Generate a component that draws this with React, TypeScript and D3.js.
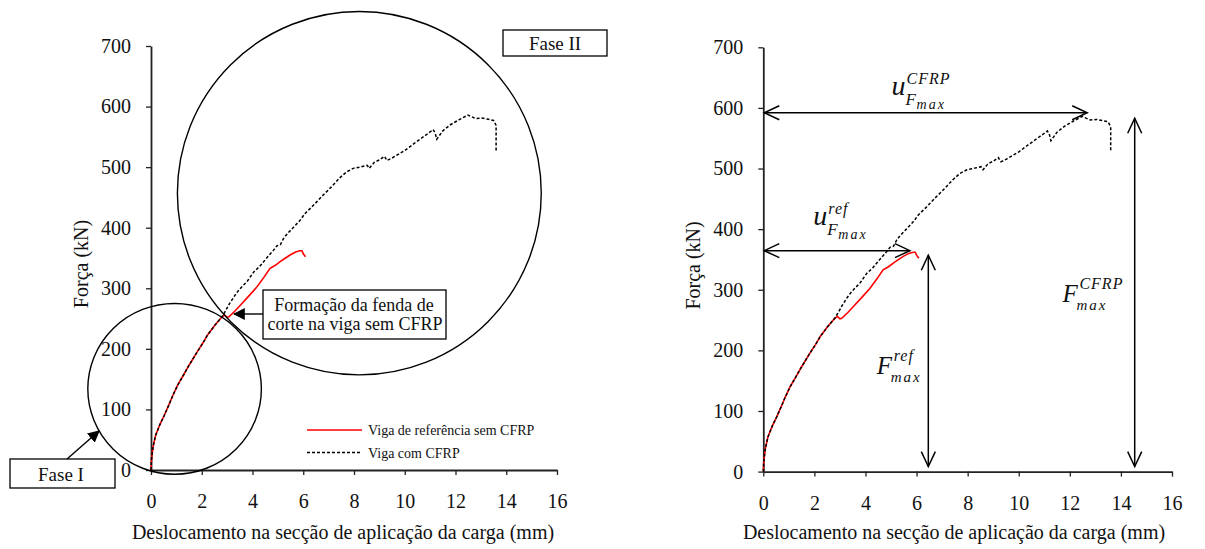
import React, { useEffect, useRef } from "react";
import * as d3 from "d3";

// Viga de referência (sem CFRP)
const refDisp = [0, 0.02, 0.08, 0.18, 0.35, 0.52, 0.7, 0.86, 1.05, 1.27, 1.5, 1.82, 2.05, 2.23, 2.5, 2.78, 2.9, 3.0, 3.07, 3.3, 3.52, 3.85, 4.17, 4.45, 4.69, 4.9, 5.09, 5.3, 5.48, 5.7, 5.87, 5.95, 6.0, 6.09];
const refForce = [0, 18, 38, 57, 75, 90, 107, 123, 140, 156, 173, 195, 210, 223, 238, 252, 256, 252, 253, 262, 272, 287, 302, 318, 333, 338, 344, 350, 355, 360, 362, 362, 357, 352];

// Viga com CFRP
const cfrpDisp = [0, 0.02, 0.08, 0.18, 0.35, 0.52, 0.7, 0.86, 1.05, 1.27, 1.5, 1.82, 2.05, 2.23, 2.5, 2.78, 2.9, 3.1, 3.3, 3.46, 3.8, 4.05, 4.28, 4.6, 4.83, 4.96, 5.1, 5.22, 5.37, 5.6, 5.87, 6.06, 6.4, 6.74, 7.1, 7.43, 7.7, 7.97, 8.22, 8.52, 8.6, 8.8, 9.0, 9.2, 9.3, 9.5, 9.78, 10.02, 10.4, 10.8, 11.12, 11.2, 11.26, 11.5, 11.8, 12.13, 12.49, 12.59, 12.8, 13.04, 13.3, 13.5, 13.6, 13.6, 13.6];
const cfrpForce = [0, 18, 38, 57, 75, 90, 107, 123, 140, 156, 173, 195, 210, 223, 238, 252, 260, 275, 288, 297, 312, 327, 336, 352, 363, 370, 372, 382, 390, 400, 412, 423, 437, 452, 467, 482, 492, 498, 500, 503, 498, 508, 512, 518, 511, 515, 522, 528, 540, 552, 562, 556, 546, 560, 570, 578, 586, 584, 580, 581, 579, 577, 569, 545, 527];

const xTicks = [0, 2, 4, 6, 8, 10, 12, 14, 16];
const yTicks = [0, 100, 200, 300, 400, 500, 600, 700];
const legendLabels = ["Viga de referência sem CFRP", "Viga com CFRP"];
const xTitle = "Deslocamento na secção de aplicação da carga (mm)";
const yTitle = "Força (kN)";

// annotation circles (centre disp, centre force, radius disp, radius force)
const phaseCircles = [
  [0.93, 134, 3.42, 141],
  [8.21, 457, 7.17, 300],
];

// right panel: maxima
const refMax = { u: 5.74, F: 357 };
const cfrpMax = { u: 12.68, F: 583 };

const FONT = "Liberation Serif, Times New Roman, Times, serif";

const App = () => {
  const ref = useRef<SVGSVGElement>(null);

  useEffect(() => {
    const svg = d3.select(ref.current);
    svg.selectAll("*").remove();

    const refPts = refDisp.map((d, i) => [d, refForce[i]]);
    const cfrpPts = cfrpDisp.map((d, i) => [d, cfrpForce[i]]);

    // draws one set of axes + both curves
    const drawPanel = (xr: number[], yr: number[], titleX: number) => {
      const x = d3.scaleLinear().domain([0, 16]).range(xr);
      const y = d3.scaleLinear().domain([0, 700]).range(yr);
      const g = svg.append("g");

      const xAxis = g
        .append("g")
        .attr("transform", `translate(0, ${yr[0]})`)
        .call(d3.axisBottom(x).tickValues(xTicks).tickSize(5).tickSizeOuter(0).tickPadding(19));
      const yAxis = g
        .append("g")
        .attr("transform", `translate(${xr[0]}, 0)`)
        .call(d3.axisLeft(y).tickValues(yTicks).tickSize(5).tickSizeOuter(0).tickPadding(15));

      [xAxis, yAxis].forEach((a) => {
        a.attr("font-family", null).attr("font-size", null);
        a.select(".domain").attr("stroke", "#222").attr("stroke-width", 1.8);
        a.selectAll(".tick line").attr("stroke", "#222").attr("stroke-width", 1.3);
        a.selectAll("text")
          .style("font-family", FONT)
          .style("font-size", "20px")
          .attr("fill", "#111");
      });

      g.append("text")
        .attr("x", titleX)
        .attr("y", 539)
        .attr("text-anchor", "middle")
        .style("font-family", FONT)
        .style("font-size", "20px")
        .attr("fill", "#111")
        .text(xTitle);

      g.append("text")
        .attr("transform", `translate(${xr[0] - 63}, ${(yr[0] + yr[1]) / 2 + 6}) rotate(-90)`)
        .attr("text-anchor", "middle")
        .style("font-family", FONT)
        .style("font-size", "20px")
        .attr("fill", "#111")
        .text(yTitle);

      const line = d3
        .line<number[]>()
        .x((d) => x(d[0]))
        .y((d) => y(d[1]));

      g.append("path")
        .attr("d", line(refPts))
        .attr("fill", "none")
        .attr("stroke", "#ff0000")
        .attr("stroke-width", 1.6);

      g.append("path")
        .attr("d", line(cfrpPts))
        .attr("fill", "none")
        .attr("stroke", "#000")
        .attr("stroke-width", 1.5)
        .attr("stroke-dasharray", "3,2");

      return { x, y, g };
    };

    // arrow marker (filled)
    svg
      .append("defs")
      .append("marker")
      .attr("id", "tri")
      .attr("viewBox", "0 0 10 10")
      .attr("refX", 9)
      .attr("refY", 5)
      .attr("markerWidth", 12)
      .attr("markerHeight", 12)
      .attr("markerUnits", "userSpaceOnUse")
      .attr("orient", "auto")
      .append("path")
      .attr("d", "M0,0 L10,5 L0,10 Z")
      .attr("fill", "#000");

    // ---------- left panel ----------
    const L = drawPanel([151, 557], [470, 46], 343);

    phaseCircles.forEach(([cx, cy, rx, ry]) => {
      L.g.append("ellipse")
        .attr("cx", L.x(cx))
        .attr("cy", L.y(cy))
        .attr("rx", L.x(cx + rx) - L.x(cx))
        .attr("ry", L.y(cy) - L.y(cy + ry))
        .attr("fill", "none")
        .attr("stroke", "#000")
        .attr("stroke-width", 1.4);
    });

    const box = (x0: number, y0: number, w: number, h: number) =>
      L.g.append("rect")
        .attr("x", x0)
        .attr("y", y0)
        .attr("width", w)
        .attr("height", h)
        .attr("fill", "#fff")
        .attr("stroke", "#000")
        .attr("stroke-width", 1.3);

    const label = (tx: number, ty: number, s: string, size: number) =>
      L.g.append("text")
        .attr("x", tx)
        .attr("y", ty)
        .attr("text-anchor", "middle")
        .style("font-family", FONT)
        .style("font-size", `${size}px`)
        .attr("fill", "#111")
        .text(s);

    box(503, 30, 104, 26);
    label(555, 50, "Fase II", 19);

    box(10, 459, 105, 29);
    label(61, 481, "Fase I", 19);
    L.g.append("line")
      .attr("x1", 67).attr("y1", 459).attr("x2", 99).attr("y2", 431)
      .attr("stroke", "#000").attr("stroke-width", 1.4)
      .attr("marker-end", "url(#tri)");

    box(263, 290, 183, 49);
    label(354, 311, "Formação da fenda de", 18);
    label(355, 330, "corte na viga sem CFRP", 18);
    L.g.append("line")
      .attr("x1", 263).attr("y1", 314).attr("x2", 234).attr("y2", 314)
      .attr("stroke", "#000").attr("stroke-width", 1.4)
      .attr("marker-end", "url(#tri)");

    // legend
    const legend = L.g.append("g").attr("transform", "translate(307, 430)");
    legendLabels.forEach((s, i) => {
      legend.append("line")
        .attr("x1", 0).attr("x2", 55)
        .attr("y1", i * 22.5).attr("y2", i * 22.5)
        .attr("stroke", i === 0 ? "#ff0000" : "#000")
        .attr("stroke-width", 1.5)
        .attr("stroke-dasharray", i === 0 ? null : "3,2");
      legend.append("text")
        .attr("x", 61)
        .attr("y", i * 22.5 + 5)
        .style("font-family", FONT)
        .style("font-size", "14px")
        .attr("fill", "#111")
        .text(s);
    });

    // ---------- right panel ----------
    const R = drawPanel([763.3, 1172], [471.6, 47.3], 954);

    const chevron = (px: number, py: number, dir: string) => {
      const l = 15, w = 7;
      let d = "";
      if (dir === "left") d = `M${px + l},${py - w} L${px},${py} L${px + l},${py + w}`;
      if (dir === "right") d = `M${px - l},${py - w} L${px},${py} L${px - l},${py + w}`;
      if (dir === "up") d = `M${px - w},${py + l} L${px},${py} L${px + w},${py + l}`;
      if (dir === "down") d = `M${px - w},${py - l} L${px},${py} L${px + w},${py - l}`;
      R.g.append("path").attr("d", d).attr("fill", "none").attr("stroke", "#000").attr("stroke-width", 1.5);
    };

    const hArrow = (u: number, F: number) => {
      const x0 = R.x(0) + 1, x1 = R.x(u), yy = R.y(F);
      R.g.append("line").attr("x1", x0).attr("x2", x1).attr("y1", yy).attr("y2", yy)
        .attr("stroke", "#000").attr("stroke-width", 1.5);
      chevron(x0, yy, "left");
      chevron(x1, yy, "right");
    };
    const vArrow = (u: number, F: number) => {
      const xx = R.x(u), y0 = R.y(F), y1 = R.y(0) - 5;
      R.g.append("line").attr("x1", xx).attr("x2", xx).attr("y1", y0).attr("y2", y1)
        .attr("stroke", "#000").attr("stroke-width", 1.5);
      chevron(xx, y0, "up");
      chevron(xx, y1, "down");
    };

    hArrow(cfrpMax.u, 592);
    hArrow(refMax.u, 364.5);
    vArrow(refMax.u + 0.72, refMax.F);
    vArrow(cfrpMax.u + 1.86, cfrpMax.F);

    // math labels: base + superscript + subscript (+ sub-subscript)
    const it = (tx: number, ty: number, s: string, size: number, ls = 0) =>
      R.g.append("text")
        .attr("x", tx)
        .attr("y", ty)
        .style("font-family", FONT)
        .style("font-style", "italic")
        .style("font-size", `${size}px`)
        .attr("letter-spacing", ls)
        .attr("fill", "#111")
        .text(s);

    const uLabel = (v: number, F: number, sup: string) => {
      const bx = R.x(v), by = R.y(F);
      it(bx, by, "u", 28);
      it(bx + 15, by - 11, sup, 16, 1);
      it(bx + 14, by + 10, "F", 17);
      it(bx + 25, by + 14, "max", 14, 2);
    };
    const fLabel = (v: number, F: number, sup: string) => {
      const bx = R.x(v), by = R.y(F);
      it(bx, by, "F", 25);
      it(bx + 17, by - 13, sup, 16, 1);
      it(bx + 14, by + 8, "max", 15, 2);
    };

    uLabel(5.02, 621, "CFRP");
    uLabel(1.96, 407, "ref");
    fLabel(4.44, 161, "ref");
    fLabel(11.71, 280, "CFRP");
  }, []);

  return (
    <svg
      ref={ref}
      width={1205}
      height={549}
      style={{ position: "absolute", left: 0, top: 0, background: "#fff" }}
    />
  );
};

export default App;
